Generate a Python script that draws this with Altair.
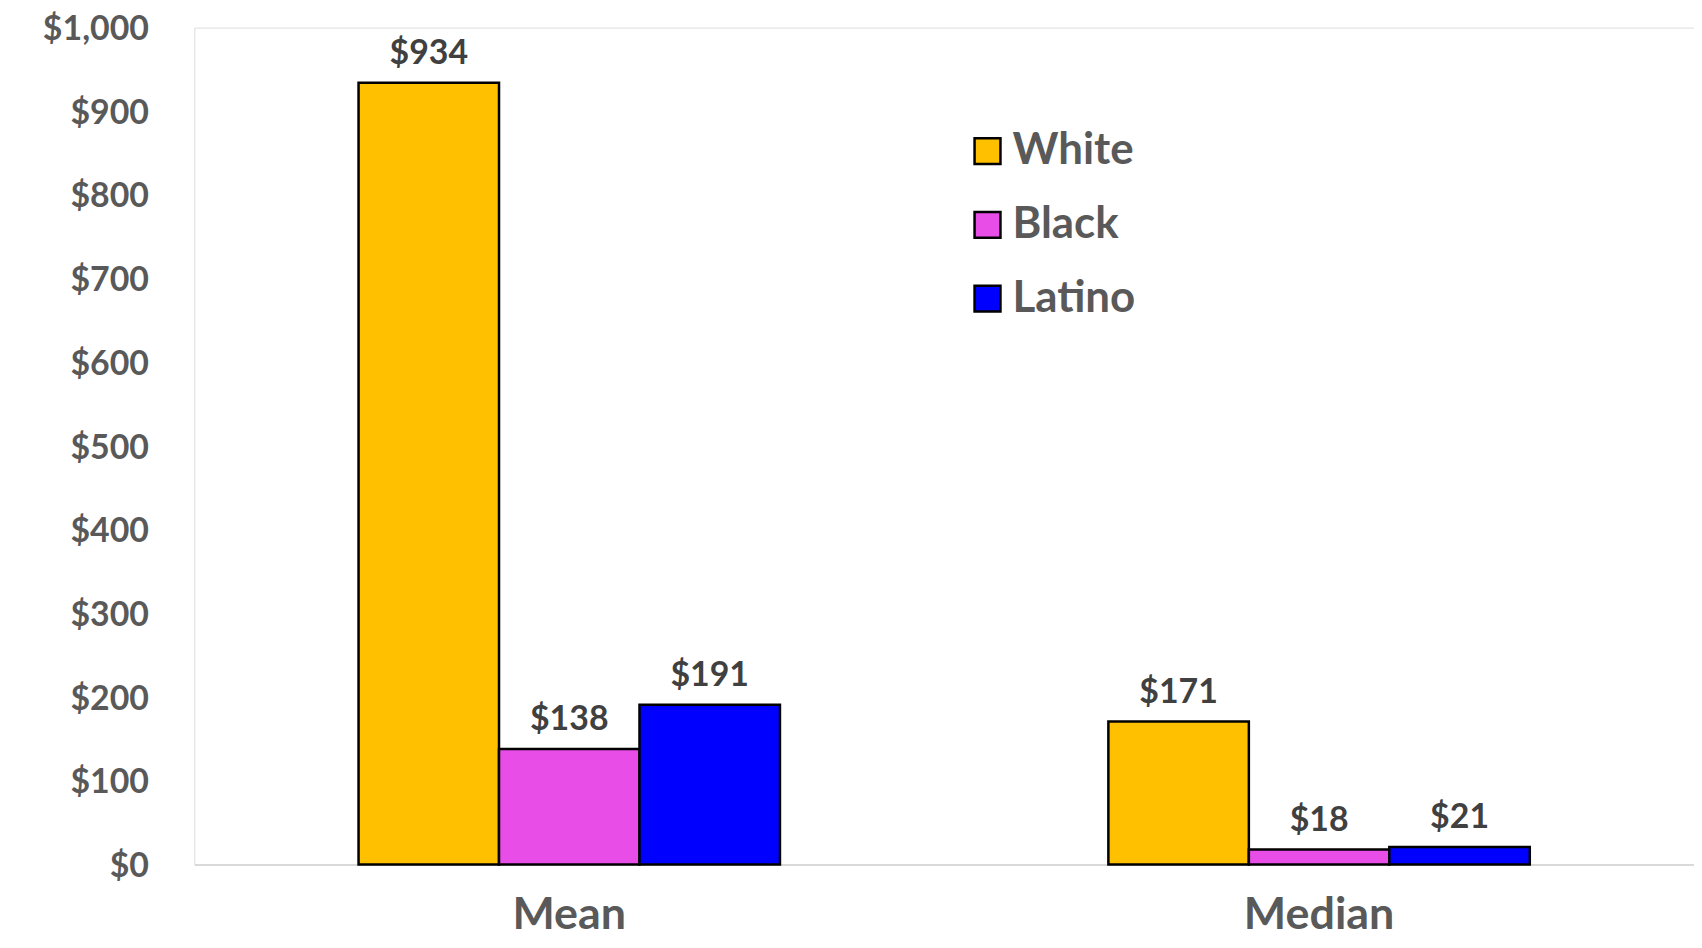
import altair as alt
import pandas as pd

stats = ["Mean", "Median"]
groups = ["White", "Black", "Latino"]
mean_values = [934, 138, 191]
median_values = [171, 18, 21]
colors = ["#FFC000", "#E84DE8", "#0000FF"]

rows = []
for s, vals in zip(stats, [mean_values, median_values]):
    for g, v in zip(groups, vals):
        rows.append({"stat": s, "group": g, "value": v, "label": f"${v:,}"})
df = pd.DataFrame(rows)

FONT = "Lato"

x = alt.X("stat:N", sort=stats, title=None,
          scale=alt.Scale(paddingInner=0.438, paddingOuter=0.219),
          axis=alt.Axis(labelAngle=0, labelFontSize=45, labelColor="#595959",
                        labelFont=FONT, labelFontWeight="bold", labelPadding=64,
                        labelBaseline="alphabetic",
                        ticks=False, domainColor="#d9d9d9", domainWidth=2))
y = alt.Y("value:Q", title=None,
          scale=alt.Scale(domain=[0, 1000], nice=False),
          axis=alt.Axis(values=list(range(0, 1001, 100)), format="$,.0f",
                        labelFontSize=34, labelColor="#595959", labelFont=FONT,
                        labelFontWeight="bold", labelPadding=46, labelOffset=2,
                        ticks=False, domain=False, grid=False))
color = alt.Color("group:N", sort=groups,
                  scale=alt.Scale(domain=groups, range=colors),
                  legend=alt.Legend(title=None, orient="none", legendX=774, legendY=102,
                                    symbolType="square", symbolSize=676,
                                    symbolStrokeColor="black", symbolStrokeWidth=2.5,
                                    symbolOpacity=1, labelFontSize=44, labelFont=FONT,
                                    labelFontWeight="bold", labelColor="#595959",
                                    labelOffset=3, rowPadding=30, labelLimit=400))

base = alt.Chart(df).encode(x=x, xOffset=alt.XOffset("group:N", sort=groups))

bars = base.mark_bar(stroke="black", strokeWidth=2.5, opacity=1).encode(y=y, color=color)
labels = base.mark_text(dy=-29, baseline="middle", fontSize=34, font=FONT,
                        fontWeight="bold", color="#404040").encode(y="value:Q", text="label:N")

chart = alt.layer(bars, labels).properties(
    width=1505, height=840,
    autosize=alt.AutoSizeParams(type="none"),
    padding={"left": 187, "top": 18, "right": 0, "bottom": 74},
).configure_view(stroke="#eeeeee", strokeWidth=3).configure(background="white")

chart.save("out.html", embed_options={"renderer": "svg", "actions": False})
